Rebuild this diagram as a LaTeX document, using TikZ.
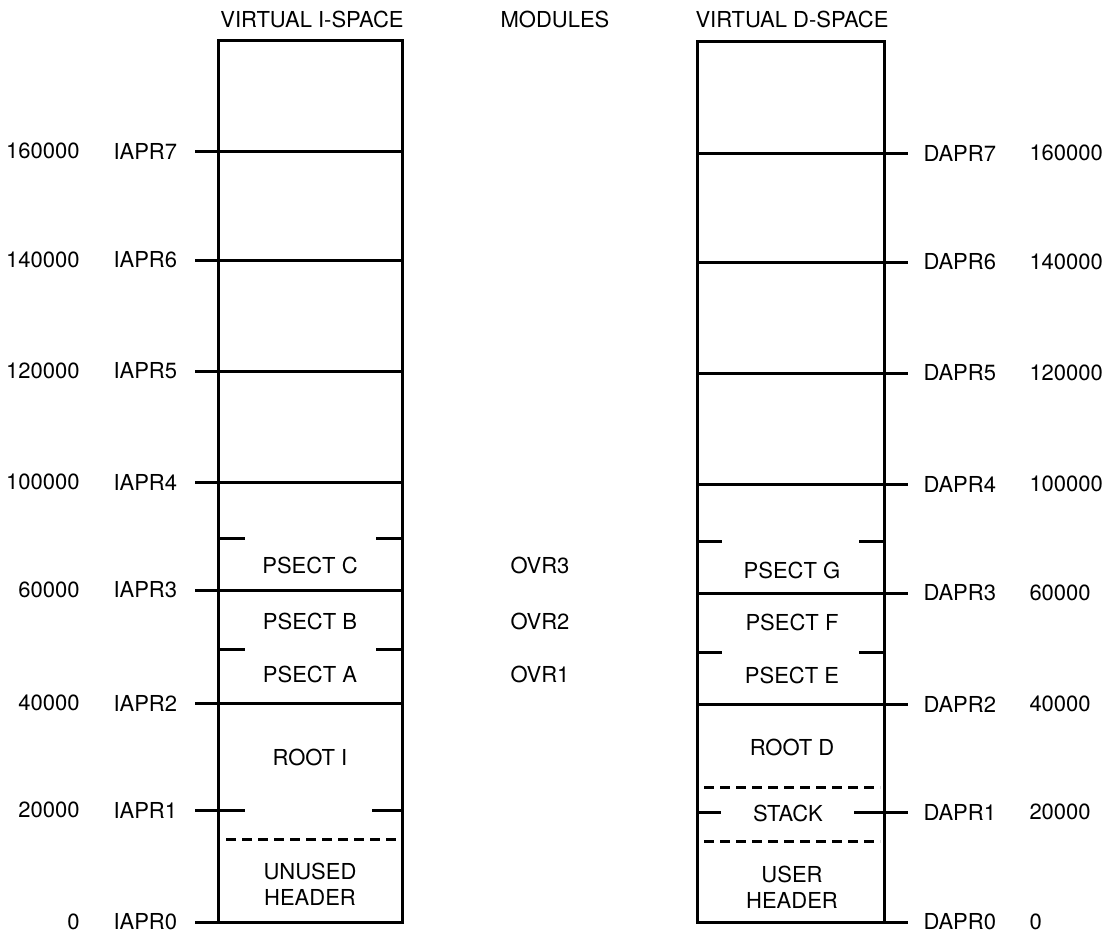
\documentclass[tikz,border=0pt]{standalone}
\usepackage{fontspec}
\setmainfont{TeX Gyre Heros}
\begin{document}
\begin{tikzpicture}[x=0.5pt,y=-0.5pt, line width=1.5pt,
  lbl/.style={inner sep=0pt, font=\fontsize{11}{13}\selectfont},
  twoline/.style={lbl, align=center},
  dsh/.style={dash pattern=on 5pt off 3pt}]
\useasboundingbox (0,0) rectangle (1108,938);
% titles
\node[lbl] (tI) at (312,19) {VIRTUAL I-SPACE};
\node[lbl] (tM) at (555,19) {MODULES};
\node[lbl] (tD) at (792,19) {VIRTUAL D-SPACE};
% boxes
\draw (218,40) rectangle (402,922);
\draw (697,41) rectangle (884,922);
% left scale
\foreach \y/\n/\v in {151/7/160000, 260/6/140000, 371/5/120000, 482/4/100000, 590/3/60000, 703/2/40000, 810/1/20000, 922/0/0}{
  \node[lbl, anchor=east] (iv\n) at (81,\y) {\v};
  \node[lbl, anchor=west] (ia\n) at (112,\y) {IAPR\n};
}
\foreach \y in {151,260,371,482,590,703}{ \draw (195,\y) -- (402,\y); }
\draw (195,922) -- (218,922);
\foreach \y in {538,649}{ \draw (218,\y) -- (245,\y); \draw (376,\y) -- (402,\y); }
\draw (195,810) -- (245,810); \draw (372,810) -- (402,810);
\draw[dsh] (226,839) -- (402,839);
% right scale
\foreach \y/\n/\v in {153/7/160000, 262/6/140000, 373/5/120000, 484/4/100000, 593/3/60000, 704/2/40000, 812/1/20000, 922/0/0}{
  \node[lbl, anchor=west] (da\n) at (922,\y) {DAPR\n};
  \node[lbl, anchor=west] (dv\n) at (1028,\y) {\v};
}
\foreach \y in {153,262,373,484,593,704}{ \draw (697,\y) -- (908,\y); }
\draw (884,922) -- (908,922);
\foreach \y in {541,652}{ \draw (697,\y) -- (722,\y); \draw (859,\y) -- (884,\y); }
\draw (697,812) -- (721,812); \draw (854,812) -- (908,812);
\draw[dsh] (704,787) -- (880,787);
\draw[dsh] (704,841) -- (880,841);
% left box contents
\node[lbl] (pc) at (310,565) {PSECT C};
\node[lbl] (pb) at (310,621) {PSECT B};
\node[lbl] (pa) at (310,674) {PSECT A};
\node[lbl] (ri) at (310,757) {ROOT I};
\node[twoline] (uh) at (310,884) {UNUSED\\HEADER};
% modules
\node[lbl] (o3) at (540,565) {OVR3};
\node[lbl] (o2) at (540,621) {OVR2};
\node[lbl] (o1) at (540,674) {OVR1};
% right box contents
\node[lbl] (pg) at (792,570) {PSECT G};
\node[lbl] (pf) at (792,622) {PSECT F};
\node[lbl] (pe) at (792,675) {PSECT E};
\node[lbl] (rd) at (792,747) {ROOT D};
\node[lbl] (st) at (788,813) {STACK};
\node[twoline] (us) at (792,887) {USER\\HEADER};
\end{tikzpicture}
\end{document}
